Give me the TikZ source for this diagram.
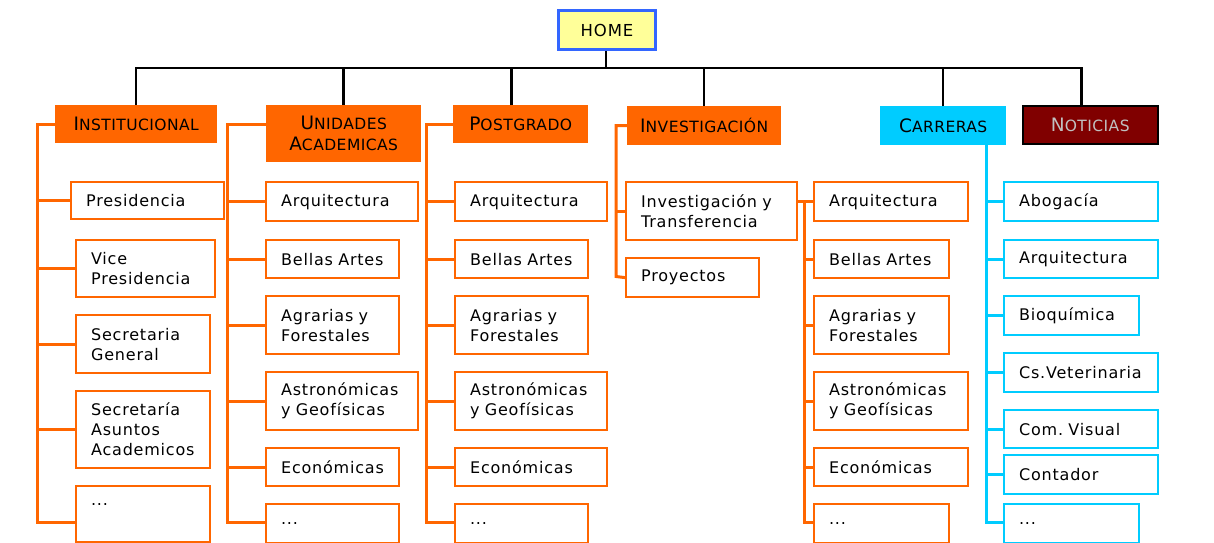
\documentclass[tikz,border=0pt]{standalone}
\usepackage{fontspec}
\setmainfont{DejaVu Sans}[LetterSpace=5.0]
\newfontfamily\hdrfont{DejaVu Sans}[LetterSpace=3.0]
\definecolor{orng}{HTML}{FF6600}
\definecolor{carcyan}{HTML}{00CCFF}
\definecolor{notired}{HTML}{800000}
\definecolor{homeyel}{HTML}{FFFF99}
\definecolor{homeblue}{HTML}{3366FF}
\definecolor{notigray}{HTML}{C0C0C0}
% small caps by hand: first letter big, rest smaller
\newcommand{\hcap}[2]{{\fontsize{18.5}{21}\selectfont #1}{\fontsize{15.5}{21}\selectfont #2}}
\tikzset{
  hdr/.style={anchor=north west, inner sep=0pt, align=center, fill=orng, font=\hdrfont\fontsize{15.5}{21}\selectfont},
  homebox/.style={anchor=north west, inner sep=0pt, fill=homeyel, draw=homeblue, line width=3pt, font=\fontsize{16.5}{20}\selectfont},
  obox/.style={draw=orng, line width=2.2pt, anchor=north west, inner xsep=15pt, inner ysep=0pt, align=left, font=\fontsize{16}{20}\selectfont},
  cbox/.style={obox, draw=carcyan},
  bar/.style={line width=2.5pt},
  oline/.style={draw=orng, line width=3pt},
  cline/.style={draw=carcyan, line width=3pt},
}
\begin{document}
\begin{tikzpicture}[x=1pt, y=-1pt]
\useasboundingbox (0,0) rectangle (1214,542);
\clip (0,0) rectangle (1214,542);
% top level
\node[homebox, minimum width=97pt, minimum height=39pt] (home) at (557,9){HOME};
\coordinate (bus) at (606,68);
\node[hdr, minimum width=162pt, minimum height=38pt] (inst) at (55,105){\hcap{I}{NSTITUCIONAL}};
\node[hdr, minimum width=155pt, minimum height=57pt] (uni) at (266,105){\hcap{U}{NIDADES}\\\hcap{A}{CADEMICAS}};
\node[hdr, minimum width=135pt, minimum height=38pt] (post) at (453,105){\hcap{P}{OSTGRADO}};
\node[hdr, minimum width=154pt, minimum height=39pt] (inv) at (627,106){\hcap{I}{NVESTIGACIÓN}};
\node[hdr, fill=carcyan, minimum width=126pt, minimum height=39pt] (carr) at (880,106){\hcap{C}{ARRERAS}};
\node[hdr, fill=notired, draw=black, line width=1.5pt, text=notigray, minimum width=135pt, minimum height=38pt] (noti) at (1022,105){\hcap{N}{OTICIAS}};
\draw[bar](home.south -| bus) -- (bus);
\draw[bar](inst.north) |- (bus) -| ([xshift=-9pt]noti.north);
\draw[bar](uni.north) -- (uni.north |- bus);
\draw[bar]([xshift=-9pt]post.north) -- ([xshift=-9pt]post.north |- bus);
\draw[bar](inv.north) -- (inv.north |- bus);
\draw[bar](carr.north) -- (carr.north |- bus);
% institucional
\node[obox, text width=123pt, minimum height=37pt] (pres) at (70,181){Presidencia};
\node[obox, text width=109pt, minimum height=57pt] (vice) at (75,239){Vice\\Presidencia};
\node[obox, text width=104pt, minimum height=58pt] (secg) at (75,314){Secretaria\\General};
\node[obox, text width=104pt, minimum height=77pt] (seca) at (75,390){Secretaría\\Asuntos\\Academicos};
\node[obox, text width=104pt, minimum height=56pt] (insd) at (75,485){...\\\mbox{}};
\coordinate (insttrunk) at (37,522);
\draw[oline](inst.west) -| (insttrunk) -- (insttrunk -| insd.west);
\draw[oline](pres.west -| insttrunk) -- (pres.west);
\draw[oline](vice.west -| insttrunk) -- (vice.west);
\draw[oline](secg.west -| insttrunk) -- (secg.west);
\draw[oline](seca.west -| insttrunk) -- (seca.west);
% unidades academicas
\node[obox, text width=122pt, minimum height=39pt] (uarq) at (265,181){Arquitectura};
\node[obox, text width=103pt, minimum height=38pt] (ubel) at (265,239){Bellas~Artes};
\node[obox, text width=103pt, minimum height=58pt] (uagr) at (265,295){Agrarias~y\\Forestales};
\node[obox, text width=122pt, minimum height=58pt] (uast) at (265,371){Astronómicas\\y~Geofísicas};
\node[obox, text width=103pt, minimum height=38pt] (ueco) at (265,447){Económicas};
\node[obox, text width=103pt, minimum height=39pt] (udot) at (265,503){...};
\coordinate (unitrunk) at (227,522);
\draw[oline](uni.west |- inst.west) -| (unitrunk) -- (unitrunk -| udot.west);
\draw[oline](uarq.west -| unitrunk) -- (uarq.west);
\draw[oline](ubel.west -| unitrunk) -- (ubel.west);
\draw[oline](uagr.west -| unitrunk) -- (uagr.west);
\draw[oline](uast.west -| unitrunk) -- (uast.west);
\draw[oline](ueco.west -| unitrunk) -- (ueco.west);
% postgrado
\node[obox, text width=122pt, minimum height=39pt] (parq) at (454,181){Arquitectura};
\node[obox, text width=103pt, minimum height=38pt] (pbel) at (454,239){Bellas~Artes};
\node[obox, text width=103pt, minimum height=58pt] (pagr) at (454,295){Agrarias~y\\Forestales};
\node[obox, text width=122pt, minimum height=58pt] (past) at (454,371){Astronómicas\\y~Geofísicas};
\node[obox, text width=122pt, minimum height=38pt] (peco) at (454,447){Económicas};
\node[obox, text width=103pt, minimum height=39pt] (pdot) at (454,503){...};
\coordinate (posttrunk) at (426,522);
\draw[oline](post.west) -| (posttrunk) -- (posttrunk -| pdot.west);
\draw[oline](parq.west -| posttrunk) -- (parq.west);
\draw[oline](pbel.west -| posttrunk) -- (pbel.west);
\draw[oline](pagr.west -| posttrunk) -- (pagr.west);
\draw[oline](past.west -| posttrunk) -- (past.west);
\draw[oline](peco.west -| posttrunk) -- (peco.west);
% investigacion
\node[obox, text width=141pt, minimum height=58pt] (invt) at (625,181){Investigación~y\\Transferencia};
\node[obox, text width=103pt, minimum height=39pt] (proy) at (625,257){Proyectos};
\coordinate (invtrunk) at (616,276.5);
\draw[oline](inv.west) -| (invtrunk) -- (proy.west);
\draw[oline](invt.west -| invtrunk) -- (invt.west);
\node[obox, text width=124pt, minimum height=39pt] (iarq) at (813,181){Arquitectura};
\node[obox, text width=105pt, minimum height=38pt] (ibel) at (813,239){Bellas~Artes};
\node[obox, text width=105pt, minimum height=58pt] (iagr) at (813,295){Agrarias~y\\Forestales};
\node[obox, text width=124pt, minimum height=58pt] (iast) at (813,371){Astronómicas\\y~Geofísicas};
\node[obox, text width=124pt, minimum height=38pt] (ieco) at (813,447){Económicas};
\node[obox, text width=105pt, minimum height=39pt] (idot) at (813,503){...};
\coordinate (itrunk) at (804,522);
\draw[oline](invt.east |- iarq.west) -- (iarq.west);
\draw[oline](iarq.west -| itrunk) -- (itrunk) -- (itrunk -| idot.west);
\draw[oline](ibel.west -| itrunk) -- (ibel.west);
\draw[oline](iagr.west -| itrunk) -- (iagr.west);
\draw[oline](iast.west -| itrunk) -- (iast.west);
\draw[oline](ieco.west -| itrunk) -- (ieco.west);
% carreras
\node[cbox, text width=124pt, minimum height=39pt] (cabo) at (1003,181){Abogacía};
\node[cbox, text width=124pt, minimum height=38pt] (carq) at (1003,239){Arquitectura};
\node[cbox, text width=105pt, minimum height=39pt] (cbio) at (1003,295){Bioquímica};
\node[cbox, text width=124pt, minimum height=39pt] (cvet) at (1003,352){Cs.Veterinaria};
\node[cbox, text width=124pt, minimum height=38pt] (cvis) at (1003,409){Com.~Visual};
\node[cbox, text width=124pt, minimum height=39pt] (ccon) at (1003,454){Contador};
\node[cbox, text width=105pt, minimum height=39pt] (cdot) at (1003,503){...};
\coordinate (carrtrunk) at (986,522);
\draw[cline](carr.south -| carrtrunk) -- (carrtrunk) -- (carrtrunk -| cdot.west);
\draw[cline](cabo.west -| carrtrunk) -- (cabo.west);
\draw[cline](carq.west -| carrtrunk) -- (carq.west);
\draw[cline](cbio.west -| carrtrunk) -- (cbio.west);
\draw[cline](cvet.west -| carrtrunk) -- (cvet.west);
\draw[cline](cvis.west -| carrtrunk) -- (cvis.west);
\draw[cline](ccon.west -| carrtrunk) -- (ccon.west);
\end{tikzpicture}
\end{document}
